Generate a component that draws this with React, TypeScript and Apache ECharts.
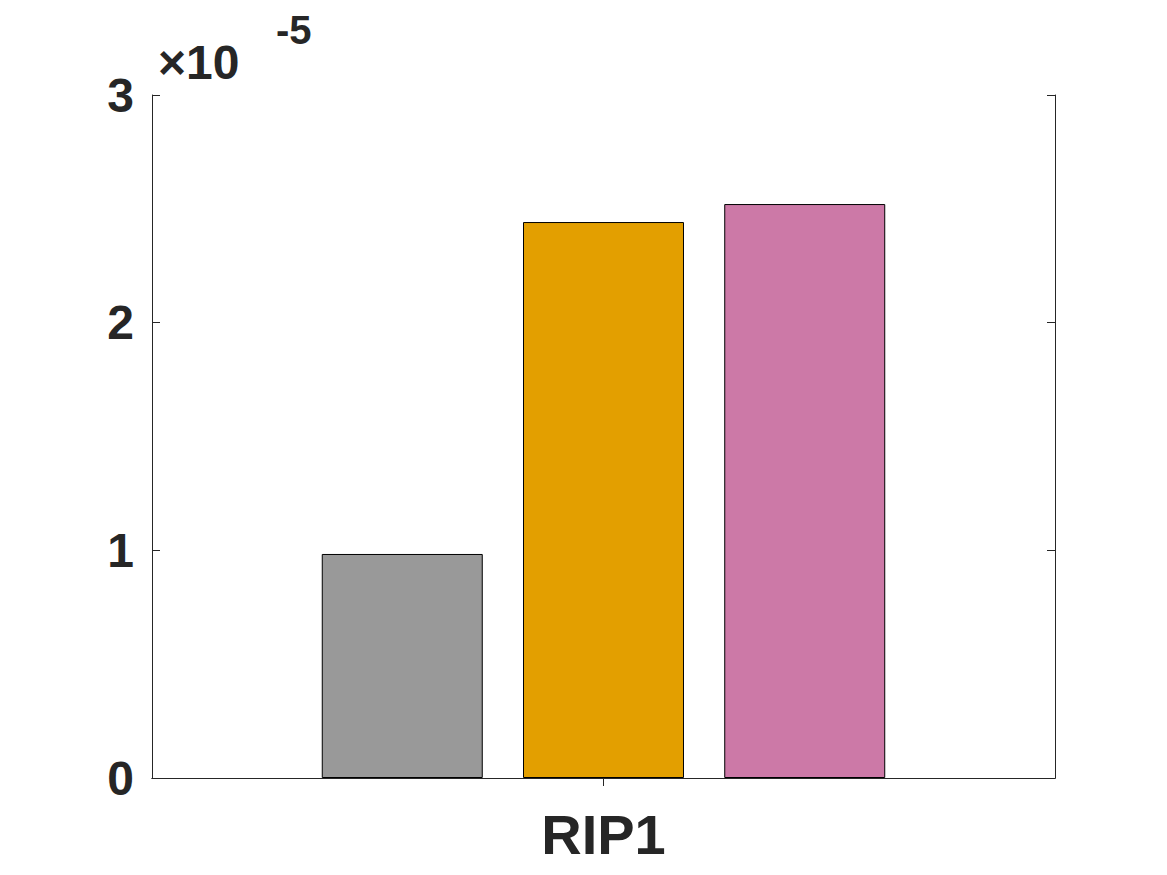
import { useEffect, useRef } from 'react';
import * as echarts from 'echarts';

const categories = ['RIP1'];
const seriesNames = ['A', 'B', 'C'];
const seriesValues = [[0.984], [2.442], [2.521]]; // in units of 1e-5
const seriesColors = ['#999999', '#e39f00', '#cc79a7'];
const yTicks = ['0', '1', '2', '3'];

export default function App() {
  const ref = useRef<HTMLDivElement | null>(null);

  useEffect(() => {
    if (!ref.current) return;
    const chart = echarts.init(ref.current, null, { renderer: 'svg' });
    const font = 'Liberation Sans, Arial, sans-serif';
    const axisLine = { show: true, lineStyle: { color: '#262626', width: 1 } };
    chart.setOption({
      animation: false,
      grid: { left: 152, right: 112, top: 95, bottom: 97 },
      xAxis: [
        {
          type: 'category',
          data: categories,
          axisLine,
          axisTick: { show: true, inside: true, length: 8, alignWithLabel: true, lineStyle: { color: '#262626' } },
          axisLabel: { color: '#262626', fontSize: 56, fontWeight: 'bold', fontFamily: font, margin: 28 },
        },
        {
          type: 'category',
          data: categories,
          position: 'top',
          axisLine,
          axisTick: { show: true, inside: true, length: 8, alignWithLabel: true, lineStyle: { color: '#262626' } },
          axisLabel: { show: false },
        },
      ],
      yAxis: [
        {
          type: 'value',
          min: 0,
          max: 3,
          interval: 1,
          axisLine,
          splitLine: { show: false },
          axisTick: { show: true, inside: true, length: 8, lineStyle: { color: '#262626' } },
          axisLabel: {
            color: '#262626',
            fontSize: 48,
            fontWeight: 'bold',
            fontFamily: font,
            margin: 18,
            formatter: (v: number) => yTicks[Math.round(v)],
          },
        },
        {
          type: 'value',
          min: 0,
          max: 3,
          interval: 1,
          position: 'right',
          axisLine,
          splitLine: { show: false },
          axisTick: { show: true, inside: true, length: 8, lineStyle: { color: '#262626' } },
          axisLabel: { show: false },
        },
      ],
      series: seriesNames.map((name, i) => ({
        name,
        type: 'bar',
        data: seriesValues[i],
        barGap: '25%',
        barCategoryGap: '37.6%',
        itemStyle: { color: seriesColors[i], borderColor: '#000', borderWidth: 1 },
      })),
      graphic: [
        {
          type: 'text',
          left: 158,
          top: 38,
          style: { text: '×10', fontSize: 48, fontFamily: font, fill: '#262626', fontWeight: 'bold' },
        },
        {
          type: 'text',
          left: 276,
          top: 10,
          style: { text: '-5', fontSize: 40, fontFamily: font, fill: '#262626', fontWeight: 'bold' },
        },
      ],
    });
    return () => chart.dispose();
  }, []);

  return (
    <div
      ref={ref}
      style={{ position: 'absolute', left: 0, top: 0, width: 1167, height: 875, background: '#fff' }}
    />
  );
}
